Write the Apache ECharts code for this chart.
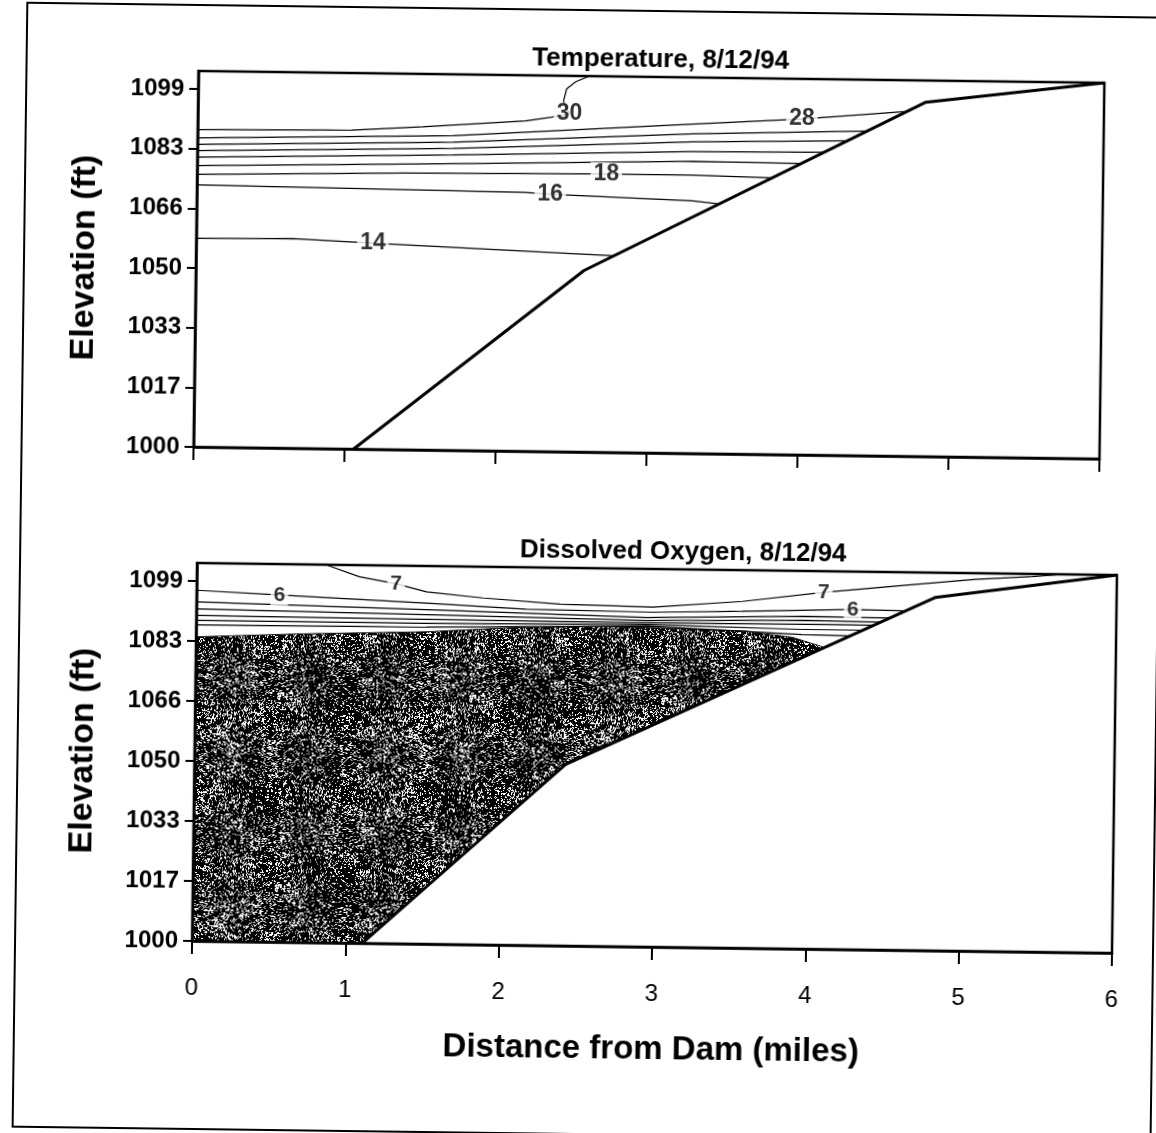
<!DOCTYPE html>
<html>
<head>
<meta charset="utf-8">
<script src="https://cdn.jsdelivr.net/npm/echarts@6/dist/echarts.min.js"></script>
<style>
  html, body { margin: 0; padding: 0; overflow: hidden; background: #fff; width: 1156px; height: 1133px; }
  /* the source is a slightly tilted scan, so the whole sheet is turned a little */
  #chart { position: absolute; left: -24px; top: -24px; width: 1204px; height: 1181px;
           transform: rotate(0.75deg); transform-origin: 50% 50%; }
</style>
</head>
<body>
<div id="chart"></div>
<script>
const PAD = 24;
const FONT = 'Liberation Sans, Arial, sans-serif';

const xTicks = [0, 1, 2, 3, 4, 5, 6];
const yMin = 1000, yMax = 1104, yStep = 16.5;

// ---- Temperature, 8/12/94 (distance in miles, elevation in ft)
const tempBottom = [[1.06, 1000], [2.57, 1050.2], [4.82, 1098.0], [6, 1104]];
const temp30 = [[0, 1087.8], [1.02, 1088.2], [1.49, 1089.4], [2.17, 1091.4], [2.34, 1092.5], [2.46, 1093.5], [2.42, 1097.0], [2.44, 1100.4], [2.50, 1102.4], [2.59, 1104]];
const temp28 = [[0, 1085.5], [1.69, 1087.0], [3.28, 1091.1], [4.00, 1092.9], [4.70, 1095.4]];
const temp26 = [[0, 1083.7], [1.69, 1085.2], [3.28, 1088.4], [4.42, 1089.8]];
const temp24 = [[0, 1082.0], [1.69, 1083.5], [3.28, 1086.2], [4.29, 1087.0]];
const temp22 = [[0, 1080.2], [1.69, 1081.7], [3.28, 1083.5], [4.15, 1083.8]];
const temp20 = [[0, 1077.8], [1.69, 1079.3], [3.28, 1080.8], [4.00, 1080.6]];
const temp18 = [[0, 1075.4], [1.36, 1076.5], [2.71, 1077.0], [3.28, 1077.0], [3.81, 1076.5]];
const temp16 = [[0, 1072.5], [2.17, 1071.6], [2.34, 1071.2], [3.28, 1069.9], [3.46, 1069.1]];
const temp14 = [[0, 1057.7], [0.64, 1058.0], [1.17, 1057.0], [2.77, 1054.4]];
// [line, point index, text]
const tempLabels = [[temp30, 5, '30'], [temp28, 3, '28'], [temp18, 2, '18'], [temp16, 2, '16'], [temp14, 2, '14']];

// ---- Dissolved Oxygen, 8/12/94
const doBottom = [[1.11, 1000], [2.42, 1049.9], [4.82, 1097.2], [6, 1104]];
const do7 = [[0.84, 1104], [1.06, 1100.8], [1.30, 1099.0], [1.50, 1096.9], [1.87, 1095.4], [2.37, 1094.0], [2.98, 1093.5], [3.56, 1095.4], [4.09, 1098.2], [4.61, 1100.4], [5.08, 1102.3], [5.45, 1103.3], [5.65, 1104]];
const do6 = [[0, 1096.5], [0.54, 1095.5], [1.50, 1093.8], [2.15, 1092.5], [2.98, 1092.1], [3.56, 1092.7], [4.28, 1093.6], [4.63, 1093.4]];
const do5 = [[0, 1093.3], [1.50, 1092.0], [2.94, 1090.6], [3.95, 1091.5], [4.53, 1091.4]];
const do4 = [[0, 1091.4], [1.50, 1090.6], [2.94, 1089.8], [3.95, 1090.4], [4.47, 1090.2]];
const do3 = [[0, 1089.6], [1.50, 1089.3], [2.94, 1089.2], [3.95, 1089.3], [4.42, 1089.3]];
const do2 = [[0, 1088.2], [1.50, 1088.2], [2.94, 1088.7], [3.95, 1087.9], [4.35, 1087.9]];
const do1 = [[0, 1087.0], [1.50, 1087.2], [2.94, 1088.3], [3.95, 1086.5], [4.27, 1086.3]];
const doLow = [[0, 1083.7], [0.70, 1084.9], [1.50, 1085.9], [2.00, 1087.2], [2.39, 1087.8], [2.91, 1087.9], [3.57, 1087.3], [3.89, 1085.7], [4.10, 1083.0]];
const doLabels = [[do7, 2, '7'], [do7, 8, '7'], [do6, 1, '6'], [do6, 6, '6']];

// speckled fill like the scanned half-tone
function hash(a, b) {
  let h = (Math.imul(a, 374761393) + Math.imul(b, 668265263)) | 0;
  h = Math.imul(h ^ (h >>> 13), 1274126177);
  h = h ^ (h >>> 16);
  return (h >>> 0) / 4294967296;
}

function speckle() {
  const size = 192;
  const c = document.createElement('canvas');
  c.width = size; c.height = size;
  const ctx = c.getContext('2d');
  const img = ctx.createImageData(size, size);
  for (let j = 0; j < size; j++) {
    for (let i = 0; i < size; i++) {
      const v = hash(i, j) * 0.5 + hash(i >> 1, (j >> 1) + 5000) * 0.38 + hash(i >> 4, (j >> 4) + 9000) * 0.12;
      const w = v > 0.64 ? 255 : 0;
      const k = (j * size + i) * 4;
      img.data[k] = img.data[k + 1] = img.data[k + 2] = w;
      img.data[k + 3] = 255;
    }
  }
  ctx.putImageData(img, 0, 0);
  return c;
}

function contour(data, g) {
  return { type: 'line', xAxisIndex: g, yAxisIndex: g, data: data, symbol: 'none', silent: true,
    lineStyle: { color: '#000', width: 1.2 }, z: 2 };
}

function bottomLine(data, g) {
  return { type: 'line', xAxisIndex: g, yAxisIndex: g, data: data, symbol: 'none', silent: true,
    lineStyle: { color: '#000', width: 3 }, areaStyle: { color: '#fff', opacity: 1, origin: 'start' }, z: 3 };
}

function labelSeries(list, g, size) {
  return { type: 'scatter', xAxisIndex: g, yAxisIndex: g, silent: true, symbolSize: 1,
    itemStyle: { color: 'rgba(0,0,0,0)' },
    data: list.map(([line, i, text]) => ({ value: line[i], name: text })),
    label: { show: true, position: 'inside', formatter: '{b}', color: '#000', fontFamily: FONT,
      fontWeight: 'bold', fontSize: size, backgroundColor: '#fff', padding: [0, 3] },
    z: 4 };
}

function xAxis(g, showLabels) {
  return { type: 'value', gridIndex: g, min: xTicks[0], max: xTicks[xTicks.length - 1], interval: 1, z: 6,
    axisLine: { onZero: false, lineStyle: { color: '#000', width: 2.5 } },
    axisTick: { length: 13, lineStyle: { color: '#000', width: 2 } },
    splitLine: { show: false },
    axisLabel: { show: showLabels, margin: 35, color: '#000', fontFamily: FONT, fontSize: 24 },
    name: showLabels ? 'Distance from Dam (miles)' : '', nameLocation: 'middle', nameGap: 86,
    nameTextStyle: { color: '#000', fontFamily: FONT, fontWeight: 'bold', fontSize: 33 } };
}

function yAxis(g) {
  return { type: 'value', gridIndex: g, min: yMin, max: yMax, interval: yStep, z: 6,
    axisLine: { onZero: false, lineStyle: { color: '#000', width: 2.5 } },
    axisTick: { length: 9, lineStyle: { color: '#000', width: 2 } },
    splitLine: { show: false },
    axisLabel: { margin: 14, showMaxLabel: false, color: '#000', fontFamily: FONT, fontWeight: 'bold', fontSize: 24,
      formatter: v => String(Math.round(v + 1e-6)) },
    name: 'Elevation (ft)', nameLocation: 'middle', nameGap: 94,
    nameTextStyle: { color: '#000', fontFamily: FONT, fontWeight: 'bold', fontSize: 34 } };
}

const chart = echarts.init(document.getElementById('chart'), null, { renderer: 'canvas' });
const fill = speckle();

const option = {
  animation: false,
  backgroundColor: 'rgba(0,0,0,0)',
  title: [
    { text: 'Temperature, 8/12/94', left: 654 + PAD, top: 46 + PAD, textAlign: 'center', padding: 0,
      textStyle: { color: '#000', fontFamily: FONT, fontWeight: 'bold', fontSize: 26 } },
    { text: 'Dissolved Oxygen, 8/12/94', left: 683 + PAD, top: 538 + PAD, textAlign: 'center', padding: 0,
      textStyle: { color: '#000', fontFamily: FONT, fontWeight: 'bold', fontSize: 26 } }
  ],
  grid: [
    { left: 192 + PAD, top: 76 + PAD, width: 906, height: 376, show: true, z: 5,
      borderColor: '#000', borderWidth: 2.5, backgroundColor: 'rgba(0,0,0,0)' },
    { left: 197 + PAD, top: 568 + PAD, width: 920, height: 378, show: true, z: 5,
      borderColor: '#000', borderWidth: 2.5, backgroundColor: 'rgba(0,0,0,0)' }
  ],
  xAxis: [xAxis(0, false), xAxis(1, true)],
  yAxis: [yAxis(0), yAxis(1)],
  graphic: [
    { type: 'rect', shape: { x: 20 + PAD, y: 10 + PAD, width: 1138, height: 1124 },
      style: { fill: 'none', stroke: '#000', lineWidth: 2 }, silent: true }
  ],
  series: [
    ...[temp30, temp28, temp26, temp24, temp22, temp20, temp18, temp16, temp14].map(d => contour(d, 0)),
    bottomLine(tempBottom, 0),
    labelSeries(tempLabels, 0, 23),

    { type: 'line', xAxisIndex: 1, yAxisIndex: 1, data: doLow, symbol: 'none', silent: true, z: 1,
      lineStyle: { color: '#111', width: 1 },
      areaStyle: { color: { image: fill, repeat: 'repeat' }, opacity: 1, origin: 'start' } },
    ...[do7, do6, do5, do4, do3, do2, do1].map(d => contour(d, 1)),
    bottomLine(doBottom, 1),
    labelSeries(doLabels, 1, 21)
  ]
};

chart.setOption(option);
</script>
</body>
</html>
